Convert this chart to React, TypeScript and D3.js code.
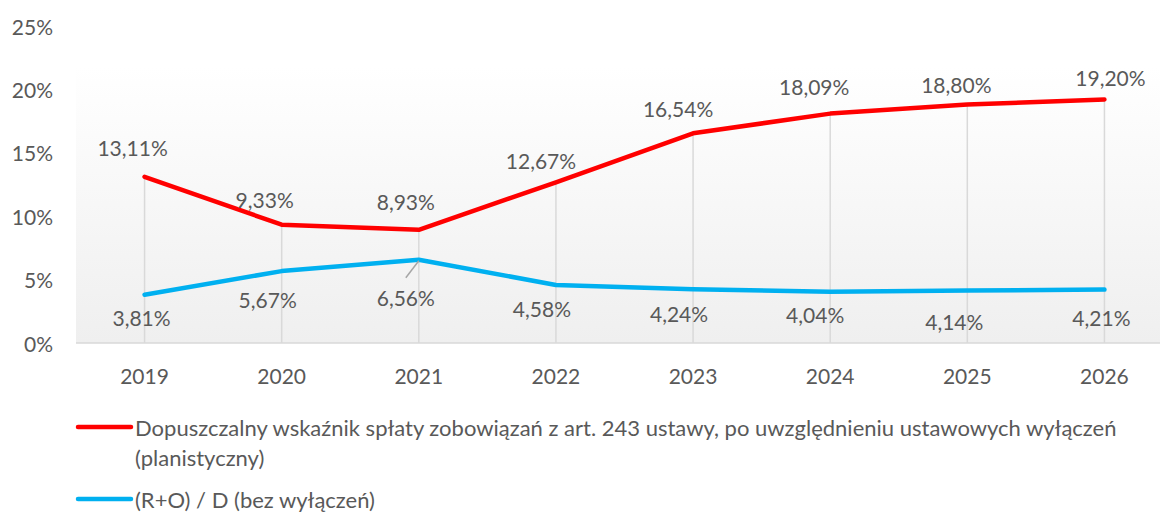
import React from "react";
import * as d3 from "d3";

const years = ["2019", "2020", "2021", "2022", "2023", "2024", "2025", "2026"];
const redValues = [13.11, 9.33, 8.93, 12.67, 16.54, 18.09, 18.8, 19.2];
const blueValues = [3.81, 5.67, 6.56, 4.58, 4.24, 4.04, 4.14, 4.21];
const yTicks = [0, 5, 10, 15, 20, 25];
const redName = "Dopuszczalny wskaźnik spłaty zobowiązań z art. 243 ustawy, po uwzględnieniu ustawowych wyłączeń";
const redName2 = "(planistyczny)";
const blueName = "(R+O) / D (bez wyłączeń)";

// label offsets (layout)
const redOffsets: [number, number][] = [[-12, -29], [-17, -25], [-13, -28], [-15, -22], [-15, -25], [-16, -27], [-11, -20], [6, -22]];
const blueOffsets: [number, number][] = [[-3, 23], [-14, 28], [-13, 38], [-14, 24], [-14, 24], [-15, 23], [-13, 31], [-3, 28]];

const W = 1160, H = 512;
const FONT = "Lato, 'Open Sans', sans-serif";
const TXT = "#595959";

export default function App() {
  const x = d3.scaleBand<string>().domain(years).range([76, 1173]).padding(0);
  const cx = (y: string) => (x(y) as number) + x.bandwidth() / 2;
  const y = d3.scaleLinear().domain([0, 25]).range([343, 26]);
  const line = d3.line<number>().x((_, i) => cx(years[i])).y((v) => y(v));
  const fmt = (v: number) => v.toFixed(2).replace(".", ",") + "%";

  return (
    <svg width={W} height={H} style={{ display: "block", position: "absolute", left: 0, top: 0 }}>
      <defs>
        <linearGradient id="bg" x1="0" y1="0" x2="0" y2="1">
          <stop offset="0" stopColor="#ffffff" />
          <stop offset="1" stopColor="#efefef" />
        </linearGradient>
      </defs>
      <rect width={W} height={H} fill="#fff" />
      <rect x={76} y={66} width={W - 76} height={343 - 66} fill="url(#bg)" />
      {/* axis line */}
      <line x1={76} x2={W} y1={343} y2={343} stroke="#d9d9d9" strokeWidth={1.5} />
      {/* drop lines */}
      {years.map((yr, i) => (
        <line key={yr} x1={cx(yr)} x2={cx(yr)} y1={y(Math.max(redValues[i], blueValues[i]))} y2={343} stroke="#d9d9d9" strokeWidth={1.5} />
      ))}
      {/* y tick labels */}
      {yTicks.map((t) => (
        <text key={t} x={53} y={y(t)} textAnchor="end" dominantBaseline="central" fontFamily={FONT} fontSize={21} fill={TXT}>
          {t}%
        </text>
      ))}
      {/* x labels */}
      {years.map((yr) => (
        <text key={yr} x={cx(yr)} y={375} textAnchor="middle" dominantBaseline="central" fontFamily={FONT} fontSize={21} fill={TXT}>
          {yr}
        </text>
      ))}
      <path d={line(redValues) || ""} fill="none" stroke="#ff0000" strokeWidth={4.5} strokeLinejoin="round" strokeLinecap="round" />
      <path d={line(blueValues) || ""} fill="none" stroke="#00b0f0" strokeWidth={4.5} strokeLinejoin="round" strokeLinecap="round" />
      {/* leader line for 2021 blue */}
      <line x1={cx("2021") - 13} y1={y(blueValues[2]) + 18} x2={cx("2021")} y2={y(blueValues[2]) + 1} stroke="#a6a6a6" strokeWidth={1.5} />
      {redValues.map((v, i) => (
        <text key={"r" + i} x={cx(years[i]) + redOffsets[i][0]} y={y(v) + redOffsets[i][1]} textAnchor="middle" dominantBaseline="central" fontFamily={FONT} fontSize={21} fill={TXT}>
          {fmt(v)}
        </text>
      ))}
      {blueValues.map((v, i) => (
        <text key={"b" + i} x={cx(years[i]) + blueOffsets[i][0]} y={y(v) + blueOffsets[i][1]} textAnchor="middle" dominantBaseline="central" fontFamily={FONT} fontSize={21} fill={TXT}>
          {fmt(v)}
        </text>
      ))}
      {/* legend */}
      <line x1={78} x2={131} y1={427} y2={427} stroke="#ff0000" strokeWidth={4.5} strokeLinecap="round" />
      <text x={135} y={427} dominantBaseline="central" fontFamily={FONT} fontSize={22} fill={TXT}>{redName}</text>
      <text x={135} y={457} dominantBaseline="central" fontFamily={FONT} fontSize={22} fill={TXT}>{redName2}</text>
      <line x1={78} x2={131} y1={499} y2={499} stroke="#00b0f0" strokeWidth={4.5} strokeLinecap="round" />
      <text x={135} y={499} dominantBaseline="central" fontFamily={FONT} fontSize={22} fill={TXT}>{blueName}</text>
    </svg>
  );
}
